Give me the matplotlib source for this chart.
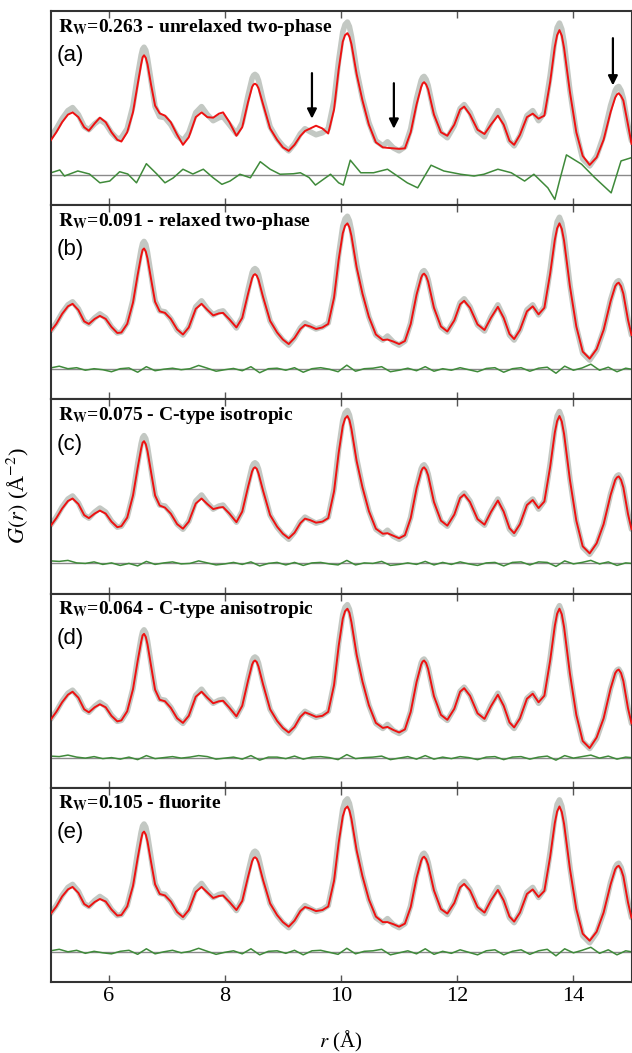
import matplotlib
matplotlib.use("Agg")
import matplotlib.pyplot as plt

plt.rcParams['font.family'] = ['Liberation Serif', 'DejaVu Serif']
plt.rcParams['mathtext.fontset'] = 'stix'

# r grid (Angstrom) for observed data and fits
r = [5.00, 5.10, 5.20, 5.30, 5.38, 5.48, 5.58, 5.66, 5.76, 5.85,
     5.95, 6.05, 6.15, 6.22, 6.32, 6.42, 6.50, 6.56, 6.585, 6.61, 6.64, 6.67,
     6.73, 6.80, 6.88, 6.97, 7.07, 7.18, 7.28, 7.38, 7.50, 7.60,
     7.70, 7.80, 7.90, 7.97, 8.08, 8.20, 8.30, 8.40, 8.47, 8.495, 8.52, 8.55,
     8.58, 8.66, 8.78, 8.90, 9.00, 9.10, 9.20, 9.30, 9.38, 9.47,
     9.57, 9.68, 9.78, 9.88, 9.96, 10.03, 10.07, 10.11, 10.145, 10.18, 10.27, 10.37,
     10.48, 10.60, 10.72, 10.80, 10.90, 11.00, 11.10, 11.20, 11.30, 11.38,
     11.405, 11.43, 11.465, 11.50, 11.60, 11.72, 11.83, 11.95, 12.05, 12.12, 12.22, 12.35,
     12.47, 12.58, 12.70, 12.80, 12.90, 12.98, 13.08, 13.20, 13.30, 13.40,
     13.50, 13.60, 13.68, 13.72, 13.76, 13.80, 13.84, 13.94, 14.05, 14.16, 14.28, 14.40,
     14.52, 14.64, 14.72, 14.75, 14.78, 14.82, 14.86, 14.94, 15.00]

# observed G(r)
g_obs = [1.52, 1.84, 2.24, 2.56, 2.68, 2.40, 1.92, 1.80, 2.04, 2.20,
         2.04, 1.68, 1.44, 1.48, 1.84, 2.76, 3.96, 4.76, 5.00, 5.08, 4.96, 4.64,
         3.76, 2.72, 2.32, 2.28, 2.00, 1.56, 1.36, 1.68, 2.48, 2.72,
         2.40, 2.16, 2.28, 2.32, 2.00, 1.64, 2.08, 3.16, 3.84, 3.96, 4.00, 3.94,
         3.76, 2.96, 1.92, 1.44, 1.16, 0.96, 1.24, 1.64, 1.84, 1.72,
         1.60, 1.68, 1.84, 2.96, 4.56, 5.68, 5.98, 6.08, 5.90, 5.52, 4.16, 3.04,
         2.08, 1.36, 1.16, 1.32, 1.08, 0.96, 1.12, 1.84, 3.04, 3.76,
         3.88, 3.92, 3.80, 3.56, 2.48, 1.68, 1.48, 1.96, 2.64, 2.80, 2.48, 1.76,
         1.52, 2.08, 2.56, 2.08, 1.36, 1.16, 1.56, 2.36, 2.56, 2.16,
         2.48, 3.96, 5.36, 5.86, 6.04, 5.80, 5.28, 3.36, 1.68, 0.64, 0.36, 0.76,
         1.56, 2.76, 3.36, 3.48, 3.52, 3.36, 3.04, 1.96, 1.36]

# calculated G(r), one list per model
g_calc_a = [1.36, 1.70, 2.10, 2.40, 2.49, 2.30, 1.90, 1.76, 2.05, 2.28,
            2.10, 1.70, 1.40, 1.33, 1.70, 2.50, 3.60, 4.40, 4.68, 4.76, 4.66, 4.40,
            3.60, 2.76, 2.45, 2.36, 2.10, 1.60, 1.20, 1.50, 2.30, 2.49,
            2.30, 2.28, 2.44, 2.49, 2.10, 1.56, 1.90, 2.90, 3.50, 3.60, 3.63, 3.58,
            3.45, 2.80, 1.85, 1.40, 1.10, 0.96, 1.20, 1.55, 1.75, 1.85,
            1.96, 1.85, 1.65, 2.60, 4.20, 5.30, 5.56, 5.64, 5.50, 5.20, 4.00, 2.96,
            2.00, 1.30, 1.10, 1.08, 1.06, 1.04, 1.06, 1.70, 2.80, 3.50,
            3.64, 3.69, 3.60, 3.40, 2.40, 1.70, 1.56, 2.00, 2.60, 2.72, 2.40, 1.80,
            1.63, 2.00, 2.36, 2.00, 1.36, 1.20, 1.60, 2.30, 2.44, 2.24,
            2.36, 3.70, 5.10, 5.56, 5.76, 5.54, 5.04, 3.30, 1.70, 0.76, 0.40, 0.70,
            1.40, 2.50, 3.08, 3.20, 3.25, 3.14, 2.96, 2.00, 1.24]
g_calc_b = [1.50, 1.80, 2.20, 2.50, 2.60, 2.35, 1.90, 1.80, 2.00, 2.12,
            2.00, 1.68, 1.44, 1.46, 1.80, 2.65, 3.75, 4.50, 4.74, 4.80, 4.68, 4.40,
            3.60, 2.68, 2.30, 2.24, 2.00, 1.58, 1.38, 1.66, 2.40, 2.60,
            2.36, 2.14, 2.22, 2.24, 1.98, 1.66, 2.04, 3.00, 3.62, 3.74, 3.78, 3.72,
            3.56, 2.86, 1.92, 1.46, 1.18, 1.00, 1.24, 1.60, 1.76, 1.70,
            1.60, 1.66, 1.80, 2.84, 4.36, 5.40, 5.70, 5.80, 5.64, 5.30, 4.04, 3.00,
            2.08, 1.38, 1.16, 1.18, 1.10, 1.00, 1.12, 1.80, 2.96, 3.64,
            3.76, 3.80, 3.70, 3.48, 2.44, 1.70, 1.50, 1.94, 2.58, 2.72, 2.44, 1.78,
            1.56, 2.04, 2.48, 2.04, 1.40, 1.20, 1.56, 2.30, 2.50, 2.18,
            2.44, 3.80, 5.14, 5.60, 5.80, 5.58, 5.10, 3.30, 1.70, 0.70, 0.42, 0.80,
            1.56, 2.70, 3.30, 3.40, 3.44, 3.30, 3.00, 1.96, 1.36]
g_calc_c = [1.48, 1.80, 2.18, 2.48, 2.58, 2.36, 1.92, 1.80, 1.98, 2.10,
            1.98, 1.66, 1.44, 1.48, 1.82, 2.70, 3.80, 4.56, 4.80, 4.86, 4.74, 4.46,
            3.64, 2.70, 2.30, 2.22, 1.98, 1.56, 1.38, 1.66, 2.38, 2.58,
            2.36, 2.16, 2.22, 2.24, 1.98, 1.64, 2.06, 3.04, 3.66, 3.78, 3.82, 3.76,
            3.58, 2.88, 1.92, 1.46, 1.18, 1.00, 1.22, 1.60, 1.78, 1.72,
            1.62, 1.66, 1.80, 2.86, 4.40, 5.46, 5.76, 5.86, 5.70, 5.34, 4.06, 3.02,
            2.08, 1.38, 1.18, 1.20, 1.10, 1.00, 1.12, 1.80, 2.98, 3.66,
            3.78, 3.82, 3.72, 3.50, 2.44, 1.70, 1.50, 1.94, 2.60, 2.74, 2.44, 1.76,
            1.54, 2.04, 2.50, 2.06, 1.40, 1.20, 1.56, 2.32, 2.52, 2.20,
            2.46, 3.84, 5.20, 5.66, 5.86, 5.64, 5.14, 3.32, 1.70, 0.68, 0.40, 0.80,
            1.56, 2.72, 3.32, 3.42, 3.46, 3.32, 3.02, 1.96, 1.36]
g_calc_d = [1.50, 1.82, 2.20, 2.50, 2.62, 2.38, 1.92, 1.80, 2.00, 2.12,
            2.00, 1.66, 1.44, 1.48, 1.84, 2.72, 3.84, 4.60, 4.86, 4.92, 4.80, 4.50,
            3.66, 2.70, 2.30, 2.24, 1.98, 1.56, 1.38, 1.66, 2.42, 2.62,
            2.38, 2.16, 2.24, 2.26, 1.98, 1.64, 2.06, 3.06, 3.70, 3.82, 3.86, 3.80,
            3.62, 2.90, 1.92, 1.46, 1.18, 1.00, 1.22, 1.62, 1.80, 1.72,
            1.62, 1.66, 1.82, 2.88, 4.44, 5.52, 5.82, 5.92, 5.76, 5.38, 4.08, 3.02,
            2.08, 1.38, 1.18, 1.22, 1.10, 1.00, 1.12, 1.82, 3.00, 3.70,
            3.82, 3.86, 3.76, 3.52, 2.44, 1.70, 1.50, 1.94, 2.62, 2.76, 2.46, 1.76,
            1.54, 2.04, 2.50, 2.06, 1.40, 1.20, 1.56, 2.34, 2.54, 2.20,
            2.46, 3.86, 5.24, 5.72, 5.92, 5.70, 5.18, 3.34, 1.70, 0.66, 0.38, 0.80,
            1.56, 2.74, 3.36, 3.46, 3.50, 3.36, 3.04, 1.96, 1.36]
g_calc_e = [1.50, 1.80, 2.20, 2.48, 2.58, 2.34, 1.90, 1.78, 1.98, 2.10,
            2.00, 1.68, 1.44, 1.46, 1.80, 2.62, 3.72, 4.48, 4.72, 4.78, 4.66, 4.38,
            3.58, 2.68, 2.30, 2.24, 2.00, 1.58, 1.38, 1.66, 2.38, 2.58,
            2.36, 2.14, 2.22, 2.24, 1.98, 1.66, 2.02, 2.98, 3.60, 3.72, 3.76, 3.70,
            3.54, 2.84, 1.92, 1.46, 1.18, 1.00, 1.24, 1.62, 1.78, 1.72,
            1.62, 1.66, 1.80, 2.82, 4.34, 5.38, 5.68, 5.78, 5.62, 5.28, 4.02, 3.00,
            2.08, 1.40, 1.18, 1.18, 1.10, 1.00, 1.12, 1.78, 2.94, 3.62,
            3.74, 3.78, 3.68, 3.46, 2.44, 1.70, 1.52, 1.94, 2.56, 2.70, 2.44, 1.78,
            1.56, 2.04, 2.46, 2.04, 1.40, 1.20, 1.56, 2.30, 2.48, 2.18,
            2.42, 3.78, 5.12, 5.58, 5.78, 5.56, 5.08, 3.30, 1.70, 0.72, 0.44, 0.80,
            1.56, 2.68, 3.28, 3.38, 3.42, 3.28, 3.00, 1.96, 1.36]

# difference curves
r_diff_a = [5.01, 5.16, 5.24, 5.47, 5.67, 5.85, 6.02, 6.19, 6.33, 6.48,
            6.65, 6.83, 6.97, 7.11, 7.28, 7.45, 7.63, 7.80, 7.95, 8.09,
            8.26, 8.44, 8.61, 8.78, 8.95, 9.18, 9.30, 9.45, 9.56, 9.68,
            9.82, 9.96, 10.04, 10.16, 10.34, 10.56, 10.80, 10.97, 11.14, 11.32,
            11.55, 11.77, 12.06, 12.29, 12.46, 12.70, 12.93, 13.16, 13.32, 13.56,
            13.68, 13.76, 13.88, 14.14, 14.37, 14.65, 14.82, 15.00]
diff_a = [0.09, 0.20, -0.04, 0.16, 0.04, -0.31, -0.24, 0.13, 0.04, -0.31,
          0.45, 0.04, -0.31, -0.12, 0.23, 0.04, 0.23, -0.11, -0.37, -0.24,
          0.03, -0.11, 0.53, 0.23, 0.03, 0.05, 0.09, -0.10, -0.40, -0.20,
          0.03, -0.31, -0.40, 0.59, 0.09, 0.09, 0.23, -0.04, -0.31, -0.51,
          0.39, 0.16, 0.03, -0.04, 0.03, 0.23, 0.09, -0.24, 0.03, -0.51,
          -0.97, -0.24, 0.80, 0.43, -0.11, -0.71, 0.56, 0.69]

r_diff = [5.0, 5.15, 5.3, 5.45, 5.6, 5.75, 5.9, 6.05, 6.2, 6.35,
          6.5, 6.65, 6.8, 6.95, 7.1, 7.25, 7.4, 7.55, 7.7, 7.85,
          8.0, 8.15, 8.3, 8.45, 8.6, 8.75, 8.9, 9.05, 9.2, 9.35,
          9.5, 9.65, 9.8, 9.95, 10.1, 10.25, 10.4, 10.55, 10.7, 10.85,
          11.0, 11.15, 11.3, 11.45, 11.6, 11.75, 11.9, 12.05, 12.2, 12.35,
          12.5, 12.65, 12.8, 12.95, 13.1, 13.25, 13.4, 13.55, 13.7, 13.85,
          14.0, 14.15, 14.3, 14.45, 14.6, 14.75, 14.9, 15.0]
diff_b = [0.05, 0.12, 0.02, 0.06, -0.04, 0.02, -0.02, -0.10, 0.02, 0.05,
          -0.12, 0.10, -0.06, 0.00, 0.04, -0.02, 0.02, 0.15, 0.04, -0.08,
          -0.02, 0.03, -0.06, 0.10, -0.14, 0.02, 0.04, -0.04, 0.06, -0.12,
          0.02, 0.06, 0.00, -0.10, 0.16, -0.08, 0.02, 0.04, 0.10, -0.10,
          -0.04, 0.04, -0.06, 0.10, -0.08, 0.02, -0.04, 0.06, -0.02, -0.10,
          0.03, 0.06, -0.12, 0.02, 0.06, -0.08, 0.04, 0.08, -0.16, 0.12,
          -0.04, 0.05, 0.20, -0.04, 0.08, -0.10, 0.04, 0.00]
diff_c = [0.10, 0.08, 0.12, 0.02, 0.00, 0.06, -0.04, 0.02, -0.08, 0.00,
          -0.10, 0.08, -0.04, 0.02, 0.06, -0.02, 0.00, 0.10, 0.02, -0.06,
          -0.02, 0.04, -0.04, 0.06, -0.10, 0.00, 0.04, -0.06, 0.04, -0.08,
          0.02, 0.04, -0.02, -0.06, 0.12, -0.06, 0.02, 0.00, 0.08, -0.08,
          -0.04, 0.02, -0.04, 0.08, -0.06, 0.04, -0.04, 0.06, -0.02, -0.08,
          0.02, 0.04, -0.10, 0.04, 0.06, -0.06, 0.06, 0.04, -0.12, 0.10,
          -0.02, 0.04, 0.12, -0.02, 0.06, -0.08, 0.02, 0.00]
diff_d = [0.06, 0.04, 0.10, 0.02, -0.02, 0.04, -0.04, 0.00, -0.06, 0.02,
          -0.08, 0.08, -0.04, 0.00, 0.04, -0.02, 0.02, 0.08, 0.04, -0.06,
          -0.02, 0.02, -0.06, 0.08, -0.10, 0.02, 0.02, -0.04, 0.06, -0.06,
          0.02, 0.04, 0.00, -0.08, 0.12, -0.04, 0.00, 0.02, 0.06, -0.08,
          -0.02, 0.04, -0.06, 0.08, -0.06, 0.02, -0.04, 0.04, 0.00, -0.08,
          0.02, 0.04, -0.08, 0.02, 0.04, -0.06, 0.02, 0.06, -0.10, 0.08,
          -0.02, 0.04, 0.10, -0.02, 0.06, -0.06, 0.02, 0.00]
diff_e = [0.04, 0.10, 0.00, 0.06, -0.06, 0.02, -0.04, -0.08, 0.02, 0.06,
          -0.10, 0.12, -0.08, 0.00, 0.06, -0.04, 0.02, 0.14, 0.02, -0.10,
          -0.02, 0.04, -0.08, 0.12, -0.12, 0.02, 0.04, -0.06, 0.06, -0.12,
          0.04, 0.06, -0.02, -0.10, 0.14, -0.08, 0.02, 0.04, 0.10, -0.12,
          -0.04, 0.04, -0.08, 0.12, -0.10, 0.02, -0.06, 0.08, -0.02, -0.12,
          0.04, 0.08, -0.12, 0.02, 0.08, -0.10, 0.04, 0.10, -0.16, 0.12,
          -0.04, 0.06, 0.18, -0.06, 0.08, -0.12, 0.04, 0.00]

rw_values = ["0.263", "0.091", "0.075", "0.064", "0.105"]
models = ["unrelaxed two-phase", "relaxed two-phase", "C-type isotropic",
          "C-type anisotropic", "fluorite"]
letters = ["(a)", "(b)", "(c)", "(d)", "(e)"]
calcs = [g_calc_a, g_calc_b, g_calc_c, g_calc_d, g_calc_e]
diffs = [(r_diff_a, diff_a), (r_diff, diff_b), (r_diff, diff_c),
         (r_diff, diff_d), (r_diff, diff_e)]

# arrows in panel (a): r, start G, end G
arrows_a = [(9.50, 4.05, 2.24), (10.91, 3.65, 1.84), (14.68, 5.44, 3.56)]

fig = plt.figure(figsize=(6.32, 10.53), dpi=100)

left = 50.5 / 632
width = 581 / 632
top_px = 11
h_px = 194.2

for i in range(5):
    bottom = 1 - (top_px + h_px * (i + 1)) / 1053
    ax = fig.add_axes([left, bottom, width, h_px / 1053])
    ax.plot(r, g_obs, color='#c3c8c3', lw=4, solid_capstyle='round',
            solid_joinstyle='round', zorder=2)
    ax.plot(r, calcs[i], color='#ee1111', lw=1.4, solid_joinstyle='round', zorder=3)
    ax.axhline(0, color='#8a8a8a', lw=1.0, zorder=1)
    ax.plot(diffs[i][0], diffs[i][1], color='#3f8a3a', lw=1.1,
            solid_joinstyle='round', zorder=2)

    ax.set_xlim(5, 15)
    ax.set_ylim(-1.2, 6.52)
    ax.set_yticks([])
    ax.set_xticks([6, 8, 10, 12, 14])
    ax.tick_params(axis='x', direction='in', top=True, bottom=True,
                   length=5, width=1, color='#555555', labelsize=16)
    if i < 4:
        ax.tick_params(axis='x', labelbottom=False)
    for s in ax.spines.values():
        s.set_linewidth(1.5)
        s.set_color('#333333')

    ax.text(0.013, 0.893, r"$\mathbf{R_W}$=" + rw_values[i] + " - " + models[i],
            transform=ax.transAxes, fontsize=14, fontweight='bold',
            va='baseline', ha='left')
    ax.text(0.011, 0.770, letters[i], transform=ax.transAxes,
            family='Liberation Sans', fontsize=16, va='center', ha='left')

    if i == 0:
        for xa, y0, y1 in arrows_a:
            ax.annotate("", xy=(xa, y1), xytext=(xa, y0),
                        arrowprops=dict(arrowstyle='-|>', color='black',
                                        lw=1.6, mutation_scale=14,
                                        shrinkA=0, shrinkB=0))

fig.text(0.028, 1 - 496 / 1053, r"$G(r)$ (Å$^{-2}$)", rotation=90,
         fontsize=16, ha='center', va='center')
fig.text((50.5 + 631.5) / 2 / 632, 1 - 1041 / 1053, r"$r$ (Å)",
         fontsize=15, ha='center', va='center')

fig.savefig("out.png", dpi=100)
